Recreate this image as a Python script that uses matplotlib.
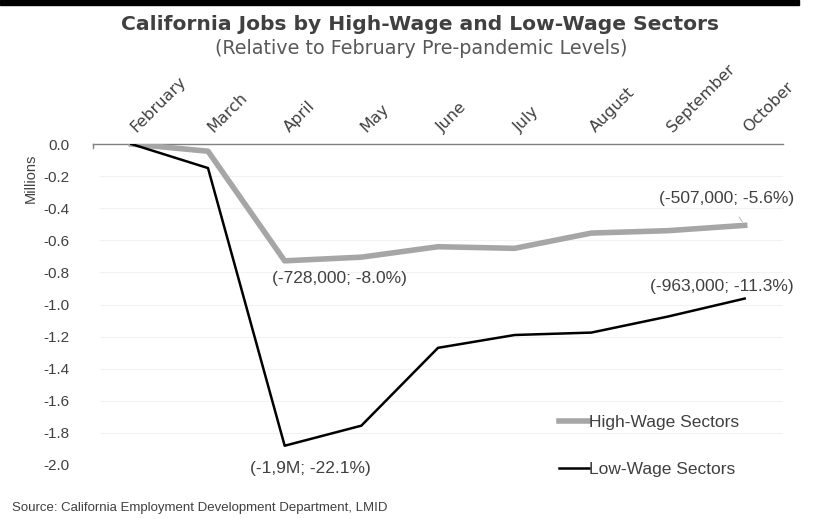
import matplotlib
matplotlib.use("Agg")
import matplotlib.pyplot as plt
from matplotlib.patches import Rectangle
from matplotlib.transforms import ScaledTranslation

months = ["February", "March", "April", "May", "June", "July", "August", "September", "October"]
high_wage = [0.0, -0.045, -0.728, -0.705, -0.64, -0.65, -0.555, -0.54, -0.507]
low_wage = [0.0, -0.15, -1.88, -1.755, -1.27, -1.19, -1.175, -1.075, -0.963]
yticks = [0.0, -0.2, -0.4, -0.6, -0.8, -1.0, -1.2, -1.4, -1.6, -1.8, -2.0]

fig = plt.figure(figsize=(8.14, 5.19), dpi=100)
fig.patches.append(Rectangle((0, 1 - 5 / 519), 0.982, 5 / 519, transform=fig.transFigure,
                             color="black", zorder=10))
ax = fig.add_axes([93 / 814, 1 - 465 / 519, (783 - 93) / 814, (465 - 144) / 519])

x = list(range(len(months)))
ax.plot(x, high_wage, color="#a6a6a6", lw=4.0, label="High-Wage Sectors", zorder=3)
ax.plot(x, low_wage, color="black", lw=1.8, label="Low-Wage Sectors", zorder=4)

ax.set_xlim(-0.5, len(months) - 0.5)
ax.set_ylim(-2.0, 0.0)
ax.set_yticks(yticks)
ax.set_yticklabels([f"{v:.1f}" for v in yticks], fontfamily="Liberation Sans", fontsize=11, color="#404040")
ax.tick_params(axis="y", length=0, pad=17)
for v in yticks[1:]:
    ax.axhline(v, color="#f2f2f2", lw=0.8, zorder=1, xmin=0.01)

ax.xaxis.tick_top()
ax.set_xticks(x)
ax.set_xticklabels(months, rotation=45, ha="left", va="bottom", rotation_mode="anchor",
                   fontfamily="DejaVu Sans", fontsize=11.5, color="#404040")
ax.tick_params(axis="x", length=0, pad=7)
off = ScaledTranslation(7 / 100, -1 / 100, fig.dpi_scale_trans)
for lbl in ax.get_xticklabels():
    lbl.set_transform(lbl.get_transform() + off)

for s in ["left", "right", "bottom"]:
    ax.spines[s].set_visible(False)
ax.spines["top"].set_color("#808080")
ax.spines["top"].set_linewidth(1.0)
ax.plot([-0.5, -0.5], [0, -0.025], color="#808080", lw=1.0, clip_on=False)

ann_kw = dict(fontfamily="Liberation Sans", fontsize=12.5, color="#404040", ha="center", va="center")
ax.annotate("(-728,000; -8.0%)", xy=(2, high_wage[2]), xytext=(2.72, -0.84), **ann_kw)
ax.annotate("(-1,9M; -22.1%)", xy=(2, low_wage[2]), xytext=(2.33, -2.02), **ann_kw)
ax.annotate("(-507,000; -5.6%)", xy=(8, high_wage[8]), xytext=(7.77, -0.34),
            arrowprops=dict(arrowstyle="-", color="#b0b0b0", lw=0.6, shrinkA=7, shrinkB=3), **ann_kw)
ax.annotate("(-963,000; -11.3%)", xy=(8, low_wage[8]), xytext=(7.7, -0.89), **ann_kw)

fig.text(31 / 814, 1 - 178 / 519, "Millions", rotation=90, ha="center", va="center",
         fontfamily="Liberation Sans", fontsize=10.5, color="#404040")

leg = ax.legend(loc="lower left", bbox_to_anchor=(0.653, -0.086), frameon=False,
                prop={"family": "Liberation Sans", "size": 12.5}, handlelength=1.7,
                handletextpad=0.0, labelspacing=1.85, labelcolor="#404040")

fig.text(420 / 814, 1 - 25 / 519, "California Jobs by High-Wage and Low-Wage Sectors",
         ha="center", va="center", fontfamily="DejaVu Sans", fontweight="bold", fontsize=14.6, color="#404040")
fig.text(421 / 814, 1 - 49 / 519, "(Relative to February Pre-pandemic Levels)",
         ha="center", va="center", fontfamily="DejaVu Sans", fontsize=13.8, color="#595959")
fig.text(12 / 814, 1 - 508 / 519, "Source: California Employment Development Department, LMID",
         ha="left", va="center", fontfamily="Liberation Sans", fontsize=9.5, color="#404040")

fig.savefig("out.png", dpi=100)
